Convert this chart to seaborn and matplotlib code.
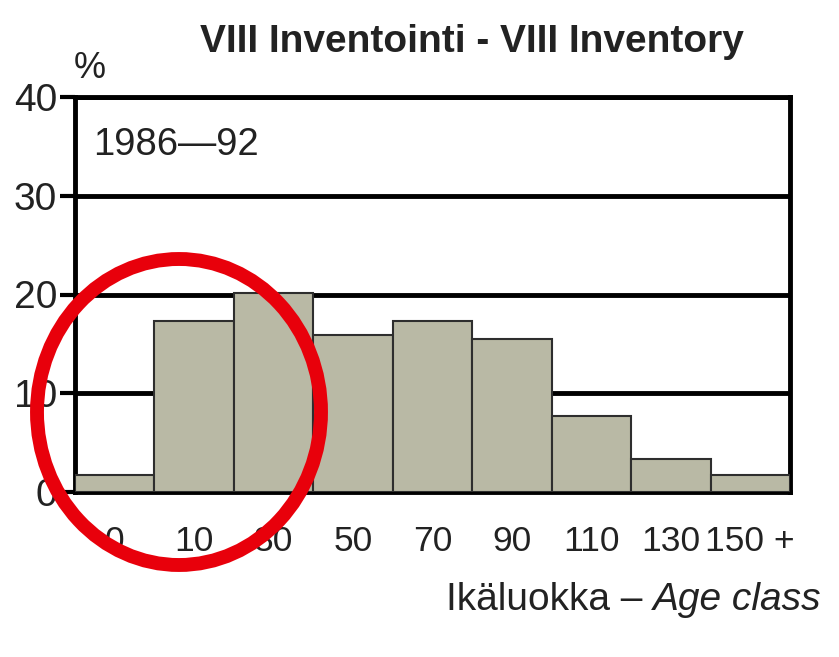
import matplotlib
matplotlib.use("Agg")
import matplotlib.pyplot as plt
import seaborn as sns
from matplotlib.patches import Ellipse

sns.set_theme(style="white")
plt.rcParams["font.family"] = ["Liberation Sans", "DejaVu Sans"]

# data
age_classes = ["0", "10", "30", "50", "70", "90", "110", "130", "150 +"]
share_pct = [1.7, 17.3, 20.2, 15.9, 17.3, 15.5, 7.7, 3.3, 1.7]
y_ticks = [0, 10, 20, 30, 40]

fig = plt.figure(figsize=(8.39, 6.57), dpi=100)
W, H = 839, 657
ax = fig.add_axes([75 / W, 1 - 492 / H, (790 - 75) / W, (492 - 97) / H])

sns.barplot(x=age_classes, y=share_pct, width=1.0, color="#b9b9a5",
            edgecolor="#2e2e2e", linewidth=1.5, saturation=1, ax=ax, zorder=3)

ax.set_xlim(-0.5, len(age_classes) - 0.5)
ax.set_ylim(0, 40)
ax.set_yticks(y_ticks)
ax.set_axisbelow(True)
ax.yaxis.grid(True, color="black", linewidth=3.5, zorder=1)
ax.xaxis.grid(False)
for s in ax.spines.values():
    s.set_color("black")
    s.set_linewidth(3.5)
ax.tick_params(axis="y", length=11, width=3, color="black", labelsize=28,
               pad=2, left=True)
ax.tick_params(axis="x", length=0, labelsize=25.5, pad=24)
for lab in ax.get_xticklabels() + ax.get_yticklabels():
    lab.set_color("#222222")
ax.set_xlabel("")
ax.set_ylabel("")

fig.text(472 / W, 1 - 42 / H, "VIII Inventointi - VIII Inventory",
         ha="center", va="center", fontsize=28, fontweight="bold", color="#222222")
fig.text(90 / W, 1 - 68 / H, "%", ha="center", va="center", fontsize=26, color="#222222")
ax.text(93 / W, 1 - 145 / H, "1986\u201492", transform=fig.transFigure,
        ha="left", va="center", fontsize=27.5, color="#222222")

# x label: normal + italic part
renderer = fig.canvas.get_renderer()
it = fig.text(822 / W, 1 - 600 / H, "Age class", ha="right", va="center",
              fontsize=28, style="italic", color="#222222")
bb = it.get_window_extent(renderer)
fig.text(bb.x0 / W, 1 - 600 / H, "Ik\u00e4luokka \u2013 ", ha="right", va="center",
         fontsize=28, color="#222222")

# red circle annotation
circle = Ellipse((179 / W, 1 - 412 / H), 284 / W, 306 / H, transform=fig.transFigure,
                 fill=False, edgecolor="#e8000b", linewidth=10, zorder=10)
fig.patches.append(circle)

fig.savefig("out.png", dpi=100)
